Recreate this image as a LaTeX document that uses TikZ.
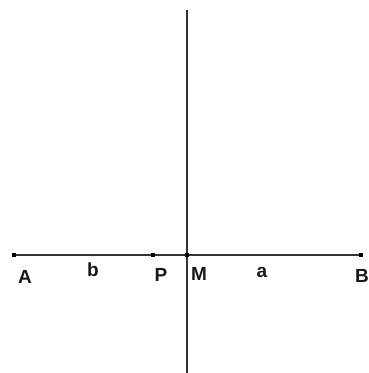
\documentclass[tikz,border=0pt]{standalone}
\usepackage{fontspec}
\setmainfont{Liberation Sans}
\begin{document}
\begin{tikzpicture}[x=1pt,y=-1pt,
  ln/.style={draw=black!80,line width=2.6pt},
  pt/.style={fill=black,minimum size=4.5pt,inner sep=0pt,rectangle},
  lbl/.style={font=\fontsize{19}{19}\selectfont\bfseries,inner sep=0pt,text=black!90}]
\useasboundingbox (0,0) rectangle (369,373);
\coordinate (T) at (187,10);
\coordinate (Bt) at (187,373);
\node[pt] (A) at (14,255) {};
\node[pt] (P) at (153,255) {};
\node[pt] (M) at (187,255) {};
\node[pt] (B) at (361,255) {};
\draw[ln] (A) -- (B);
\draw[ln] (T) -- (Bt);
\node[pt] at (A) {};
\node[pt] at (P) {};
\node[pt] at (M) {};
\node[pt] at (B) {};
\node[lbl] (la) at (25,277) {A};
\node[lbl] (lb) at (93,270) {b};
\node[lbl] (lP) at (161,275) {P};
\node[lbl] (lM) at (199,274) {M};
\node[lbl] (lA) at (262,272) {a};
\node[lbl] (lB) at (362,276) {B};
\end{tikzpicture}
\end{document}
